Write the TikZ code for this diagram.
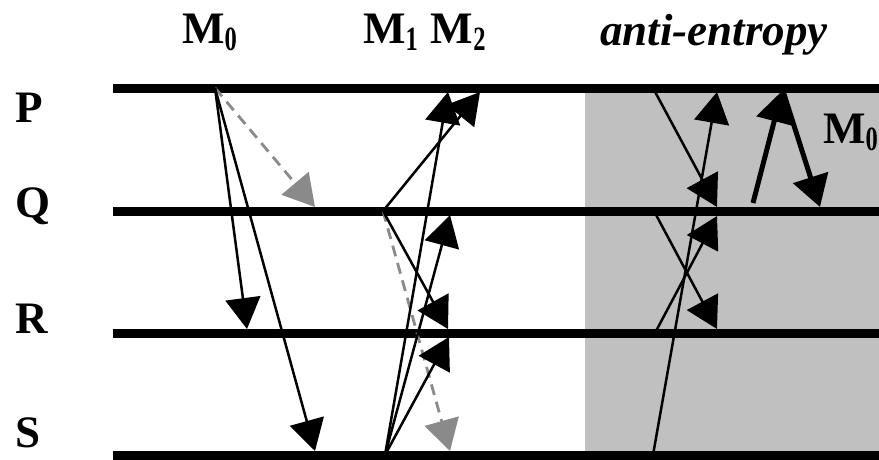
\documentclass[tikz,border=0pt]{standalone}
\usepackage{fontspec}
\setmainfont{Liberation Serif}
\usetikzlibrary{arrows.meta}
\definecolor{boxgray}{HTML}{C0C0C0}
\definecolor{dashgray}{HTML}{8A8A8A}
\newcommand{\msub}[1]{\raisebox{-7pt}{\fontsize{34}{34}\selectfont\scalebox{0.72}[1]{#1}}}
\begin{document}
\begin{tikzpicture}[x=1pt,y=-1pt,
  lbl/.style={inner sep=0pt,anchor=base west,font=\fontsize{45}{50}\selectfont\bfseries},
  timeline/.style={line width=9pt},
  msg/.style={line width=2.5pt,-{Triangle[length=31pt,width=35pt]}},
  msgthick/.style={line width=5pt,-{Triangle[length=31pt,width=36pt]}},
  gossip/.style={line width=2.8pt,dashgray,dash pattern=on 11pt off 7pt,
     -{Triangle[length=31pt,width=35pt]}}]
\useasboundingbox (0,0) rectangle (879,459);
% gray anti-entropy region
\fill[boxgray] (585,88) rectangle (879,459);
% process timelines
\foreach \n/\y in {P/88,Q/211,R/333,S/455}{
  \coordinate (\n l) at (113,\y);
  \coordinate (\n r) at (879,\y);
  \draw[timeline] (\n l) -- (\n r);
}
% labels
\node[lbl] (lP) at (15,122) {P};
\node[lbl] (lQ) at (15,217) {Q};
\node[lbl] (lR) at (15,333) {R};
\node[lbl] (lS) at (15,447) {S};
\node[lbl] (t0) at (182,43) {M\msub{0}};
\node[lbl] (t12) at (363,43) {M\msub{1}\hspace{13pt}M\msub{2}};
\node[lbl,font=\fontsize{45}{50}\selectfont\bfseries\itshape] (tae) at (600,45) {anti-entropy};
\node[lbl] (tm0) at (823,143) {M\msub{0}};
% M0
\coordinate (a0) at (215,88);
\coordinate (a1) at (247,329);
\coordinate (a2) at (315,451);
\coordinate (a3) at (315,207);
\draw[gossip] (a0) -- (a3);
\draw[msg] (a0) -- (a1);
\draw[msg] (a0) -- (a2);
% M1 (from Q)
\coordinate (b0) at (383,211);
\coordinate (b1) at (480,92);
\coordinate (b2) at (448,329);
\coordinate (b3) at (450,451);
\draw[gossip] (b0) -- (b3);
\draw[msg] (b0) -- (b1);
\draw[msg] (b0) -- (b2);
% M2 (from S)
\coordinate (c0) at (385,455);
\coordinate (c1) at (448,92);
\coordinate (c2) at (450,215);
\coordinate (c3) at (449,337);
\draw[msg] (c0) -- (c1);
\draw[msg] (c0) -- (c2);
\draw[msg] (c0) -- (c3);
% anti-entropy exchanges
\coordinate (d0) at (653,88);  \coordinate (d1) at (717,207);
\coordinate (e0) at (653,455); \coordinate (e1) at (717,92);
\coordinate (f0) at (654,211); \coordinate (f1) at (717,329);
\coordinate (g0) at (655,333); \coordinate (g1) at (717,216);
\draw[msg] (d0) -- (d1);
\draw[msg] (e0) -- (e1);
\draw[msg] (f0) -- (f1);
\draw[msg] (g0) -- (g1);
\coordinate (h0) at (753,203); \coordinate (h1) at (782,91);
\coordinate (h2) at (782,88);  \coordinate (h3) at (820,207);
\draw[msgthick] (h0) -- (h1);
\draw[msgthick] (h2) -- (h3);
\end{tikzpicture}
\end{document}
